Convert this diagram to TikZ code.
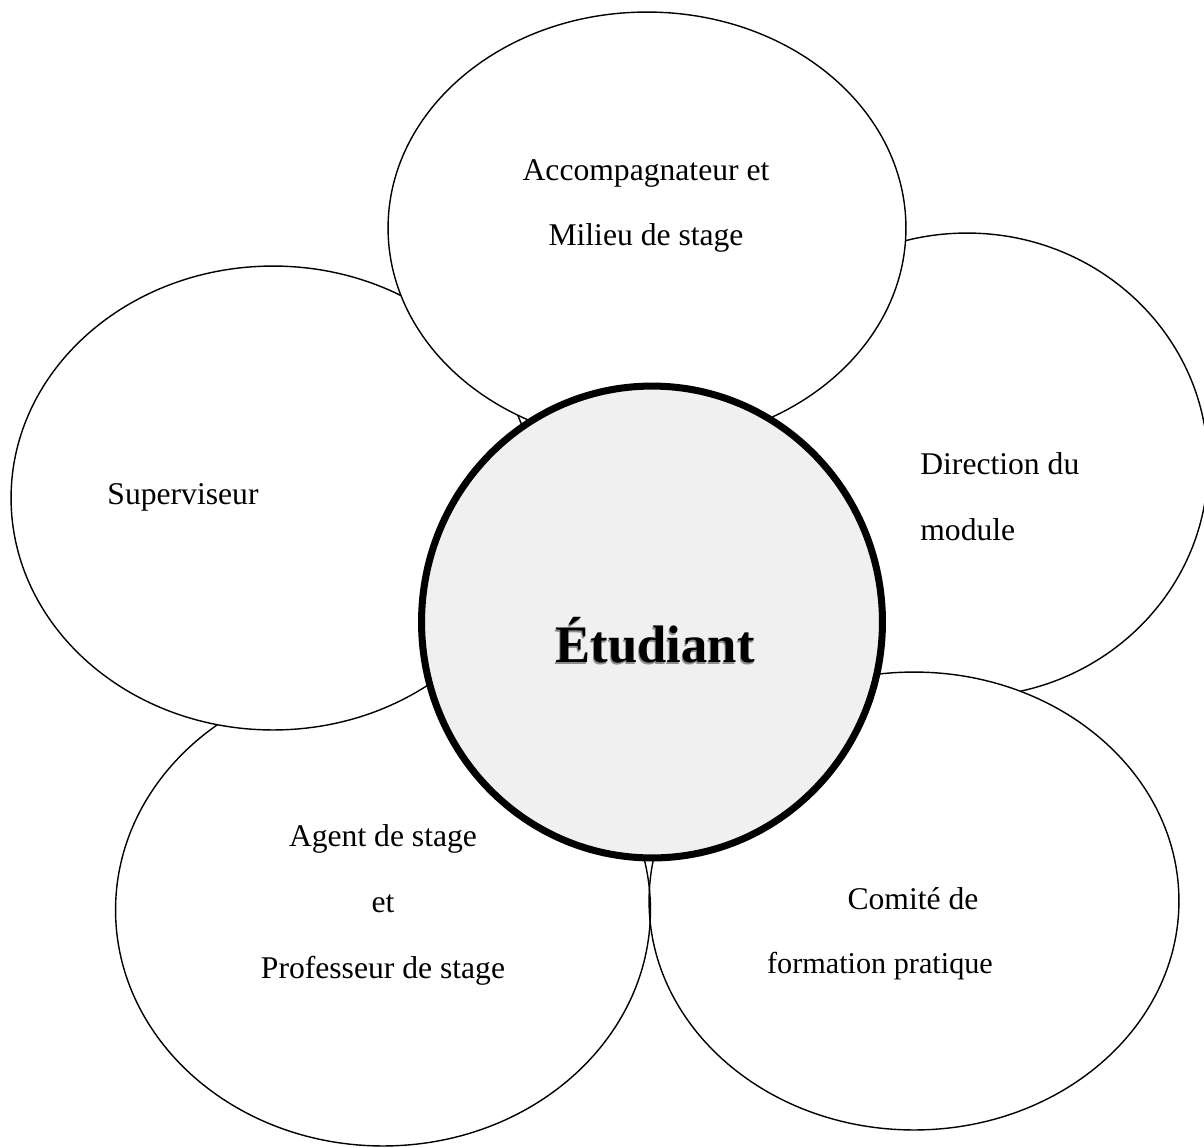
\documentclass[tikz,border=0pt]{standalone}
\usepackage{fontspec}
\setmainfont{Liberation Serif}
\usetikzlibrary{shapes.geometric}

\begin{document}
\begin{tikzpicture}[x=0.02cm,y=-0.02cm,
    petal/.style={draw,ellipse,line width=0.8pt,inner sep=0pt},
    lbl/.style={font=\fontsize{18}{37.5}\selectfont,align=center,inner sep=0pt}]
\useasboundingbox (0,0) rectangle (1204,1147);

% petals, back to front
\node[petal,fill=white,minimum width=9.64cm,minimum height=9.28cm] (dir) at (967,465) {};
\node[petal,fill=white,minimum width=10.6cm,minimum height=9.16cm] (comite) at (914,901) {};
\node[petal,minimum width=10.7cm,minimum height=9.44cm] (agent) at (383,910) {};
\node[petal,fill=white,minimum width=10.48cm,minimum height=9.28cm] (sup) at (273,498) {};
\node[petal,fill=white,minimum width=10.36cm,minimum height=8.64cm] (accomp) at (647,228) {};

% centre
\node[ellipse,draw,line width=4pt,fill=black!6,minimum width=9.22cm,minimum height=9.44cm] (etu) at (652,622) {};

% labels
\node[lbl] (accomptxt) at (646,206) {Accompagnateur et\\Milieu de stage};
\node[lbl] (suptxt) at (183,497) {Superviseur};
\node[lbl,align=left,anchor=west] (dirtxt) at (920,497) {Direction du\\module};
\node[lbl] (agenttxt) at (383,905) {Agent de stage\\et\\Professeur de stage};
\node[lbl] (comitetxt) at (913,899) {Comité de};
\node[lbl,font=\fontsize{17.2}{20}\selectfont] (formtxt) at (880,966) {formation pratique};
\node[font=\fontsize{30}{36}\bfseries\selectfont,text=black!45,anchor=base] at (654,664) {Étudiant};
\node[font=\fontsize{30}{36}\bfseries\selectfont,anchor=base] (etutxt) at (655,662) {Étudiant};
\end{tikzpicture}
\end{document}
